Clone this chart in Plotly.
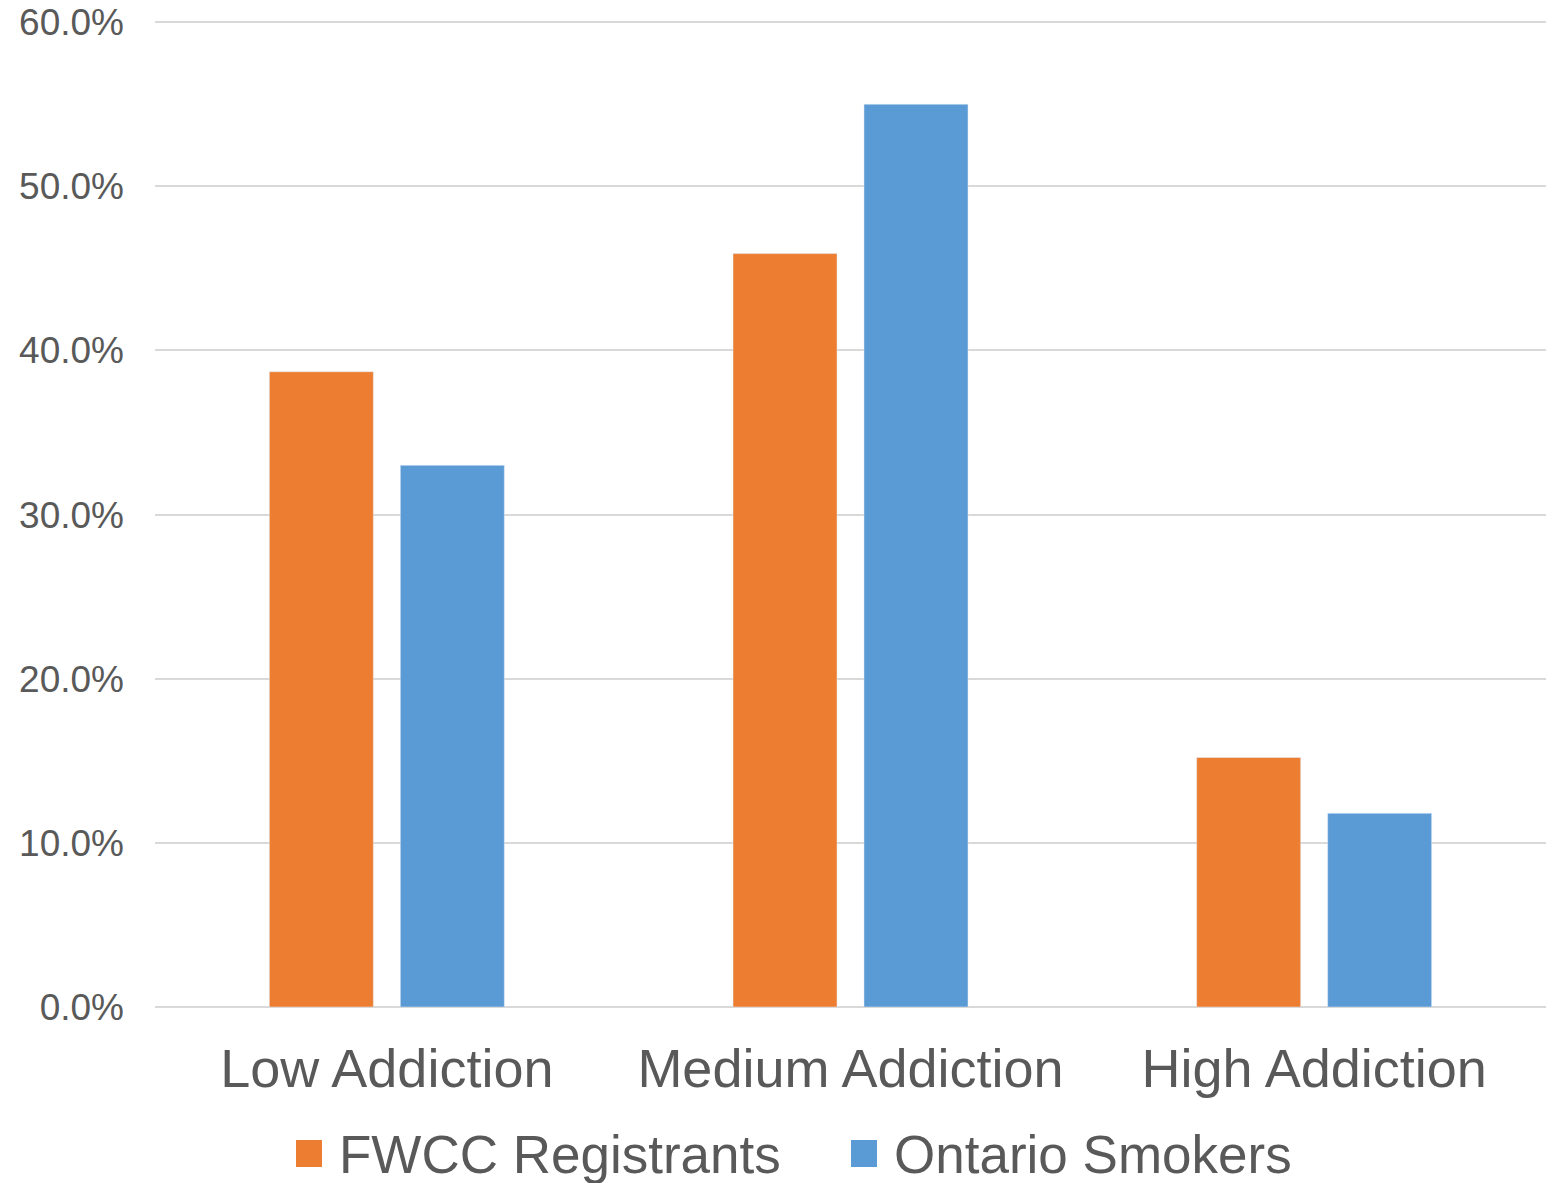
import plotly.graph_objects as go

# Share of respondents by level of nicotine addiction
categories = ["Low Addiction", "Medium Addiction", "High Addiction"]
series_names = ["FWCC Registrants", "Ontario Smokers"]
fwcc_registrants = [0.387, 0.459, 0.152]
ontario_smokers = [0.330, 0.550, 0.118]
tick_values = [0.0, 0.1, 0.2, 0.3, 0.4, 0.5, 0.6]

ORANGE = "#ED7D31"
BLUE = "#5B9BD5"
TEXT = "#595959"
FONT = "Liberation Sans, Arial, sans-serif"

W, H = 1568, 1183
M_L, M_R, M_T, M_B = 155, 22, 20, 176
PLOT_W = W - M_L - M_R
PLOT_H = H - M_T - M_B


def px_to_paper_x(px):
    return (px - M_L) / PLOT_W


def px_to_paper_y(py):
    return (H - M_B - py) / PLOT_H


fig = go.Figure()
fig.add_trace(go.Bar(name=series_names[0], x=categories, y=fwcc_registrants,
                     marker=dict(color=ORANGE)))
fig.add_trace(go.Bar(name=series_names[1], x=categories, y=ontario_smokers,
                     marker=dict(color=BLUE)))

# Legend below the category labels: large square swatches with labels
legend_items = [
    (series_names[0], ORANGE, 296, 337),
    (series_names[1], BLUE, 851, 892),
]
sq_top, sq_bot = 1140, 1167
for name, color, sq_left, text_left in legend_items:
    fig.add_shape(
        type="rect", xref="paper", yref="paper",
        x0=px_to_paper_x(sq_left), x1=px_to_paper_x(sq_left + 26),
        y0=px_to_paper_y(sq_bot), y1=px_to_paper_y(sq_top),
        fillcolor=color, line=dict(width=0), layer="above",
    )
    fig.add_annotation(
        text=name, xref="paper", yref="paper",
        x=px_to_paper_x(text_left), y=px_to_paper_y(1154),
        xanchor="left", yanchor="middle", showarrow=False,
        font=dict(size=53, color=TEXT, family=FONT),
    )

fig.update_layout(
    width=W, height=H,
    margin=dict(l=M_L, r=M_R, t=M_T, b=M_B, autoexpand=False),
    paper_bgcolor="white", plot_bgcolor="white",
    barmode="group", bargap=0.435, bargroupgap=0.206,
    font=dict(family=FONT, color=TEXT),
    showlegend=False,
)

fig.update_xaxes(
    showgrid=False, showline=False, ticks="", automargin=False,
    tickfont=dict(size=54, color=TEXT, family=FONT),
    ticklabelstandoff=25,
)
fig.update_yaxes(
    range=[0, 0.6013], tickvals=tick_values, tickformat=".1%",
    showgrid=True, gridcolor="#D9D9D9", gridwidth=2,
    zeroline=True, zerolinecolor="#D9D9D9", zerolinewidth=2,
    showline=False, ticks="", automargin=False,
    tickfont=dict(size=37, color=TEXT, family=FONT),
    ticklabelstandoff=30,
)

fig.write_html("out.html")
